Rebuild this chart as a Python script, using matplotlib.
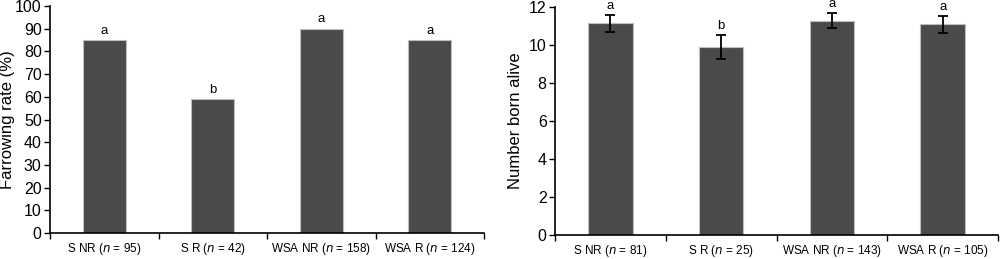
import matplotlib.pyplot as plt
import numpy as np

plt.rcParams['font.family'] = ['Liberation Sans', 'DejaVu Sans']

# left panel: farrowing rate
FR_LABELS = ["S NR", "S R", "WSA NR", "WSA R"]
FR_N = [95, 42, 158, 124]
FR_VALUES = [85, 59, 90, 85]
FR_LETTERS = ["a", "b", "a", "a"]

# right panel: number born alive
NBA_LABELS = ["S NR", "S R", "WSA NR", "WSA R"]
NBA_N = [81, 25, 143, 105]
NBA_VALUES = [11.15, 9.9, 11.3, 11.1]
NBA_ERR = [0.45, 0.65, 0.4, 0.45]
NBA_LETTERS = ["a", "b", "a", "a"]

BAR_COLOR = "#4a4a4a"


def draw_panel(ax, labels, ns, values, letters, ylim, ystep, ylabel, label_x, err=None, letter_pad=0.0):
    x = np.arange(len(values))
    ax.bar(x, values, width=0.4, color=BAR_COLOR, edgecolor="#bdbdbd", linewidth=0.8, zorder=2)
    tops = np.array(values, dtype=float)
    if err is not None:
        ax.errorbar(x, values, yerr=err, fmt="none", ecolor="black", elinewidth=1.3,
                    capsize=3.5, capthick=1.3, zorder=3)
        tops = tops + np.array(err)
    for xi, t, lt in zip(x, tops, letters):
        ax.text(xi, t + letter_pad, lt, ha="center", va="bottom", fontsize=9.5)

    ax.set_xlim(-0.5, len(values) - 0.5)
    ax.set_ylim(*ylim)
    ax.set_yticks(np.arange(ylim[0], ylim[1] + ystep / 2, ystep))
    ax.tick_params(axis="y", labelsize=11.5, direction="out", length=4, width=1, pad=2)

    # boundaries as major ticks, labels on minor ticks at centres
    ax.set_xticks(np.arange(-0.5, len(values), 1.0))
    ax.set_xticklabels([])
    ax.set_xticks(x, minor=True)
    ax.set_xticklabels([f"{l} ($\\it{{n}}$ = {n})" for l, n in zip(labels, ns)], minor=True)
    ax.tick_params(axis="x", which="major", direction="out", length=4, width=1)
    ax.tick_params(axis="x", which="minor", length=0, labelsize=8.5, pad=6)

    ax.spines["top"].set_visible(False)
    ax.spines["right"].set_visible(False)
    ax.spines["left"].set_linewidth(1.2)
    ax.spines["bottom"].set_linewidth(1.2)
    ax.set_ylabel(ylabel, fontsize=12)
    ax.yaxis.set_label_coords(label_x, 0.5)


fig = plt.figure(figsize=(10, 2.59), dpi=100)
ax1 = fig.add_axes([0.050, 26 / 259, 0.434, 227 / 259])
ax2 = fig.add_axes([0.555, 24 / 259, 0.443, 227.7 / 259])

draw_panel(ax1, FR_LABELS, FR_N, FR_VALUES, FR_LETTERS, (0, 100), 10,
           "Farrowing rate (%)", -0.080, letter_pad=1.5)
draw_panel(ax2, NBA_LABELS, NBA_N, NBA_VALUES, NBA_LETTERS, (0, 12), 2,
           "Number born alive", -0.072, err=NBA_ERR, letter_pad=0.15)

fig.savefig("out.png", dpi=100)
